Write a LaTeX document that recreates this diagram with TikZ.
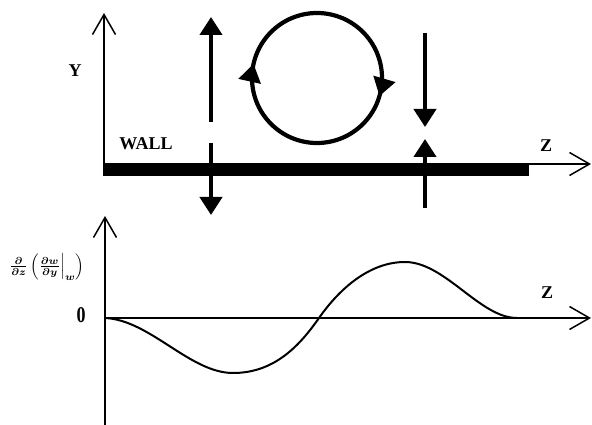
\documentclass[tikz,border=0pt]{standalone}
\usepackage{graphicx}
\usepackage{fontspec}
\setmainfont{Liberation Serif}
\usetikzlibrary{arrows.meta,decorations.markings}
\newsavebox{\derivbox}
\begin{document}
\sbox{\derivbox}{\scalebox{1.45}{\mathversion{bold}$\frac{\partial}{\partial z}\left(\frac{\partial w}{\partial y}\Big|_{w}\right)$}}%
\begin{tikzpicture}[x=1pt,y=-1pt,
  axis/.style={line width=1.5pt,-{Straight Barb[length=20pt,width=23pt,line width=1.5pt]}},
  flow/.style={line width=4.2pt,-{Triangle[length=18pt,width=22pt]}},
  lbl/.style={font=\bfseries\fontsize{18}{20}\selectfont,inner sep=0pt},
  mathlbl/.style={inner sep=0pt},
  curve/.style={line width=2pt}]
\useasboundingbox (0,0) rectangle (592,425);
% top panel
\coordinate (O1) at (104,176);
\coordinate (Ytop) at (104,13);
\coordinate (O1z) at (104,164);
\coordinate (Zend) at (591,164);
\draw[axis] (O1) -- (Ytop);
\draw[axis] (O1z) -- (Zend);
\fill (104,164) rectangle (529,176);
\node[lbl] (Y) at (75,71) {Y};
\node[lbl] (wall) at (146,144) {WALL};
\node[lbl] (Z1) at (546,146) {Z};
% flow arrows
\coordinate (a1s) at (211,122); \coordinate (a1e) at (211,17);
\coordinate (a2s) at (211,143); \coordinate (a2e) at (211,215);
\coordinate (a3s) at (425,33);  \coordinate (a3e) at (425,127);
\coordinate (a4s) at (425,208); \coordinate (a4e) at (425,139);
\draw[flow] (a1s) -- (a1e);
\draw[flow] (a2s) -- (a2e);
\draw[flow] (a3s) -- (a3e);
\draw[flow] (a4s) -- (a4e);
% vortex
\coordinate (vc) at (317,78);
\draw[line width=4.2pt,postaction={decorate},
  decoration={markings,
    mark=at position 0.045 with {\arrow{Triangle[length=18pt,width=22pt]}},
    mark=at position 0.535 with {\arrow{Triangle[length=18pt,width=22pt]}}}]
  (vc) circle[radius=65];
% bottom panel
\coordinate (O2b) at (105,425);
\coordinate (Y2top) at (105,216);
\coordinate (O2) at (105,318);
\coordinate (Z2end) at (591,318);
\draw[axis] (O2b) -- (Y2top);
\draw[axis] (O2) -- (Z2end);
\node[lbl,yscale=1.25] (zero) at (81,315) {0};
\node[lbl] (Z2) at (547,293) {Z};
\node[mathlbl] (deriv) at (47,267) {\usebox{\derivbox}};
\coordinate (c5) at (517,318);
\draw[curve] (O2) .. controls (150,320) and (190,373) .. (233,373)
  .. controls (275,373) and (300,345) .. (319,318)
  .. controls (340,288) and (370,262) .. (405,262)
  .. controls (445,262) and (480,318) .. (c5);
\end{tikzpicture}
\end{document}
